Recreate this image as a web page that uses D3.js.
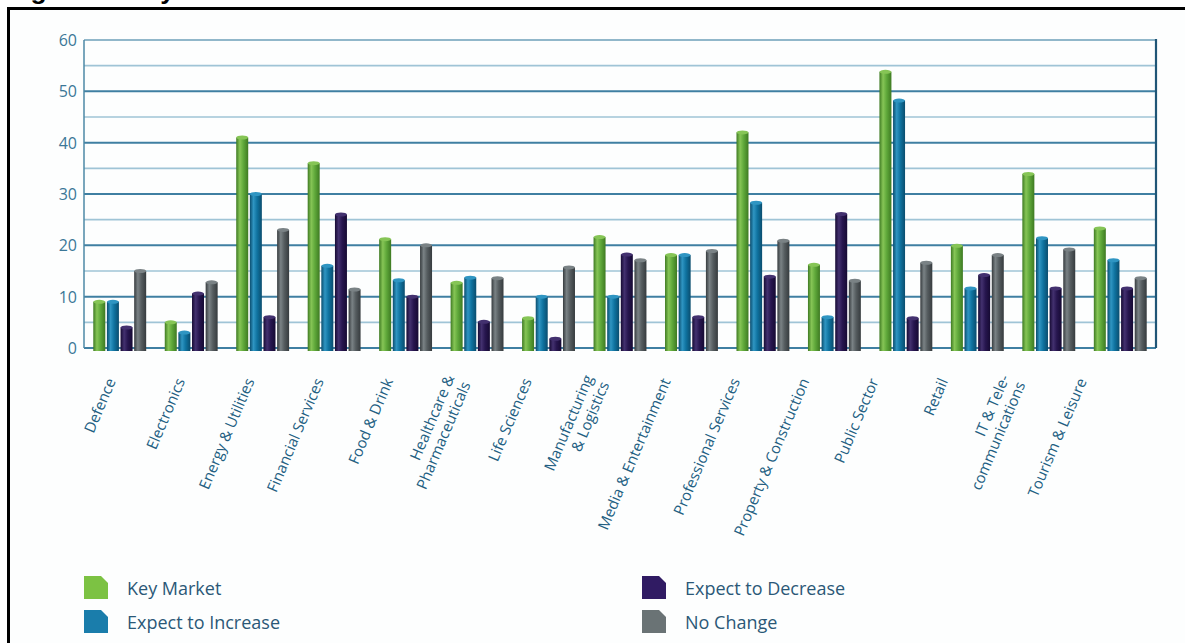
<!DOCTYPE html>
<html><head><meta charset="utf-8">
<script src="https://cdn.jsdelivr.net/npm/d3@7"></script>
<style>body{margin:0;background:#fff;} svg{display:block;}</style>
</head><body><svg id="chart" width="1185" height="643"></svg>
<script>
const categories = ["Defence","Electronics","Energy & Utilities","Financial Services","Food & Drink","Healthcare & Pharmaceuticals","Life Sciences","Manufacturing & Logistics","Media & Entertainment","Professional Services","Property & Construction","Public Sector","Retail","IT & Tele-communications","Tourism & Leisure"];
const labelLines = [["Defence"],["Electronics"],["Energy & Utilities"],["Financial Services"],["Food & Drink"],["Healthcare &","Pharmaceuticals"],["Life Sciences"],["Manufacturing","& Logistics"],["Media & Entertainment"],["Professional Services"],["Property & Construction"],["Public Sector"],["Retail"],["IT & Tele-","communications"],["Tourism & Leisure"]];
const seriesNames = ["Key Market","Expect to Increase","Expect to Decrease","No Change"];
const keyMarket      = [9, 5, 41, 36, 21.2, 12.7, 5.8, 21.6, 18.1, 42, 16.2, 53.8, 19.9, 33.9, 23.3];
const expectIncrease = [9, 3, 30, 16, 13.2, 13.7, 10, 10, 18.1, 28.3, 6, 48.2, 11.6, 21.4, 17.1];
const expectDecrease = [4, 10.6, 6, 26, 10, 5.1, 1.8, 18.2, 6, 13.9, 26.1, 5.8, 14.2, 11.6, 11.6];
const noChange       = [15, 12.8, 23, 11.4, 20, 13.6, 15.7, 17.1, 18.9, 20.9, 13.1, 16.6, 18.1, 19.2, 13.6];
const yTicks = [0, 10, 20, 30, 40, 50, 60];
const minorTicks = [5, 15, 25, 35, 45, 55];
const title = "Figure 4: Key Markets";

const seriesValues = [keyMarket, expectIncrease, expectDecrease, noChange];
const palette = {
  "Key Market":        {base:"#5fa83a", light:"#86c556", dark:"#3e7a22", legend:"#7cc243"},
  "Expect to Increase":{base:"#0f73a0", light:"#2f95c2", dark:"#0a4d6e", legend:"#1a7dab"},
  "Expect to Decrease":{base:"#27164f", light:"#43316f", dark:"#160a33", legend:"#301b63"},
  "No Change":         {base:"#555c5f", light:"#7a8285", dark:"#363b3e", legend:"#6a7375"}
};

const svg = d3.select("#chart");
const W = 1185, H = 643;
svg.append("rect").attr("width", W).attr("height", H).attr("fill", "#fff");

// Title (cropped at the top edge as in the reference)
svg.append("text").attr("x", 7).attr("y", -1)
  .attr("font-family", "Arial, 'Liberation Sans', sans-serif").attr("font-weight", "bold")
  .attr("font-size", 26.5).attr("fill", "#000").text(title);

// frame
svg.append("rect").attr("x", 8.5).attr("y", 8.5).attr("width", W + 20).attr("height", H + 20)
  .attr("fill", "#fdfefe").attr("stroke", "#000").attr("stroke-width", 3);

const plot = {left: 84, right: 1156, top: 40, bottom: 348};
const y = d3.scaleLinear().domain([0, 60]).range([plot.bottom, plot.top]);
const x0 = d3.scaleBand().domain(categories).range([plot.left, plot.right]).paddingInner(0.26).paddingOuter(0.13);
const x1 = d3.scaleBand().domain(seriesNames).range([0, x0.bandwidth()]).paddingInner(0.12);
const labelX = d3.scalePoint().domain(categories).range([116, 1087]);

// gradients
const defs = svg.append("defs");
seriesNames.forEach((s, i) => {
  const c = palette[s];
  const g = defs.append("linearGradient").attr("id", "grad" + i).attr("x1", "0").attr("x2", "1").attr("y1", "0").attr("y2", "0");
  g.append("stop").attr("offset", "0%").attr("stop-color", c.dark);
  g.append("stop").attr("offset", "30%").attr("stop-color", c.light);
  g.append("stop").attr("offset", "60%").attr("stop-color", c.base);
  g.append("stop").attr("offset", "100%").attr("stop-color", c.dark);
});

// grid
const grid = svg.append("g");
grid.selectAll("line.minor").data(minorTicks).join("line").attr("class", "minor")
  .attr("x1", plot.left).attr("x2", plot.right).attr("y1", d => y(d)).attr("y2", d => y(d))
  .attr("stroke", "#9fc4d6").attr("stroke-width", 1.6);
grid.selectAll("line.major").data(yTicks).join("line").attr("class", "major")
  .attr("x1", plot.left).attr("x2", plot.right).attr("y1", d => y(d)).attr("y2", d => y(d))
  .attr("stroke", d => d === 60 ? "#6c9fb8" : "#3f7fa2").attr("stroke-width", d => d === 60 ? 1.6 : 2);
grid.append("line").attr("x1", plot.left).attr("x2", plot.left).attr("y1", plot.top).attr("y2", plot.bottom)
  .attr("stroke", "#4d88a6").attr("stroke-width", 1.5);
grid.append("line").attr("x1", plot.right).attr("x2", plot.right).attr("y1", plot.top - 1).attr("y2", plot.bottom)
  .attr("stroke", "#1f5576").attr("stroke-width", 2.2);

// y labels
svg.append("g").selectAll("text").data(yTicks).join("text")
  .attr("x", 77).attr("y", d => y(d) + 6).attr("text-anchor", "end")
  .attr("font-family", "'Open Sans', sans-serif").attr("font-size", 16).attr("fill", "#3b7797")
  .text(d => d);

// bars
const rows = categories.map((c, ci) => ({cat: c, vals: seriesNames.map((s, si) => ({s, si, v: seriesValues[si][ci]}))}));
const groups = svg.append("g").selectAll("g").data(rows).join("g")
  .attr("transform", d => `translate(${x0(d.cat)},0)`);
groups.selectAll("rect").data(d => d.vals).join("rect")
  .attr("x", d => x1(d.s)).attr("y", d => y(d.v))
  .attr("width", x1.bandwidth()).attr("height", d => y(0) - y(d.v) + 3)
  .attr("fill", d => `url(#grad${d.si})`);
groups.selectAll("ellipse").data(d => d.vals).join("ellipse")
  .attr("cx", d => x1(d.s) + x1.bandwidth() / 2).attr("cy", d => y(d.v))
  .attr("rx", x1.bandwidth() / 2).attr("ry", 2)
  .attr("fill", d => palette[d.s].light);

// x labels
const lab = svg.append("g").selectAll("text").data(categories).join("text")
  .attr("transform", d => `translate(${labelX(d)},381) rotate(-67)`)
  .attr("text-anchor", "end")
  .attr("font-family", "'Open Sans', sans-serif").attr("font-size", 15).attr("fill", "#235f82");
lab.each(function(d, i) {
  const lines = labelLines[i];
  const t = d3.select(this);
  const n = lines.length;
  lines.forEach((ln, k) => {
    t.append("tspan").attr("x", 0).attr("y", ((k - (n - 1) / 2) * 1.15) + "em").text(ln);
  });
});

// legend
const legendPos = [[84, 576], [84, 610], [642, 576], [642, 610]];
const leg = svg.append("g").selectAll("g").data(seriesNames).join("g")
  .attr("transform", (d, i) => `translate(${legendPos[i][0]},${legendPos[i][1]})`);
leg.append("path").attr("d", "M0,0 H17 L24,7 V23 H0 Z").attr("fill", d => palette[d].legend);
leg.append("text").attr("x", 43).attr("y", 19)
  .attr("font-family", "'Open Sans', sans-serif").attr("font-size", 18).attr("fill", "#2b5877")
  .text(d => d);
</script></body></html>
